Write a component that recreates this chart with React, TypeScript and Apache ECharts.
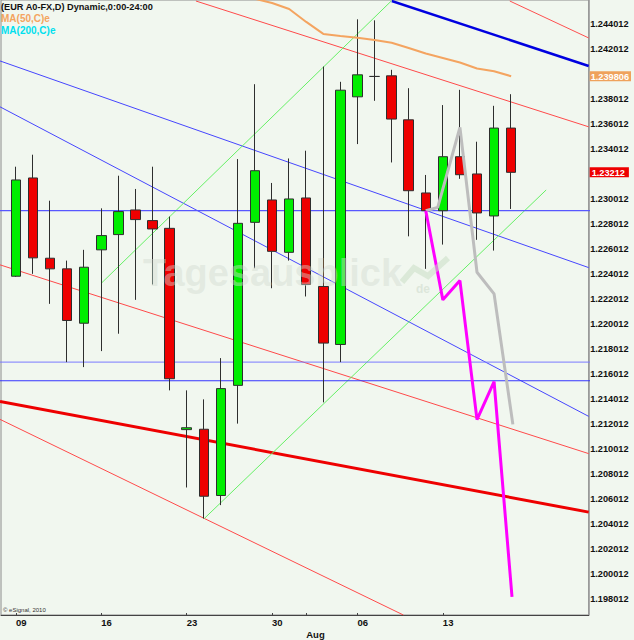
import { useEffect, useRef } from 'react';
import * as echarts from 'echarts';

const FONT = '"Liberation Sans", Arial, sans-serif';

// ---- candle data (trading-day index, Jul 9 2010 = 0) ----
const dayIdx = [0, 1, 2, 3, 4, 5, 6, 7, 8, 9, 10, 11, 12, 13, 14, 15, 16, 17, 18, 19, 20, 21, 22, 23, 24, 25, 26, 27, 28, 29];
const opens = [1.22381, 1.23167, 1.22525, 1.22440, 1.22005, 1.22592, 1.22714, 1.22911, 1.22826, 1.22764, 1.21154, 1.21157, 1.20627, 1.21508, 1.22812, 1.22991, 1.22572, 1.23007, 1.22299, 1.21835, 1.23816, 1.23979, 1.23984, 1.23632, 1.23047, 1.22905, 1.23337, 1.23199, 1.22863, 1.23566];
const closes = [1.23151, 1.22528, 1.22440, 1.22027, 1.22453, 1.22706, 1.22898, 1.22834, 1.22759, 1.21561, 1.21169, 1.20621, 1.21482, 1.22804, 1.23225, 1.22580, 1.22999, 1.22315, 1.21846, 1.23869, 1.23992, 1.23979, 1.23638, 1.23065, 1.22905, 1.23337, 1.23193, 1.22887, 1.23566, 1.23212];
const lows = [1.22375, 1.22400, 1.22160, 1.21694, 1.21654, 1.21782, 1.21921, 1.22192, 1.22315, 1.21468, 1.20691, 1.20443, 1.20550, 1.21202, 1.22445, 1.22285, 1.22506, 1.22219, 1.21372, 1.21694, 1.23438, 1.23784, 1.23291, 1.22700, 1.22440, 1.22634, 1.23160, 1.22672, 1.22586, 1.22919];
const highs = [1.23257, 1.23353, 1.22985, 1.22506, 1.22592, 1.22924, 1.23185, 1.23079, 1.23257, 1.22858, 1.21468, 1.21396, 1.21726, 1.23318, 1.23917, 1.23127, 1.23323, 1.23385, 1.24058, 1.23936, 1.24436, 1.24428, 1.24032, 1.23885, 1.23191, 1.23750, 1.23872, 1.23457, 1.23744, 1.23837];

// ---- MA(50) ----
const ma50Idx = [14, 15, 16, 17, 18, 19, 20, 21, 22, 23, 24, 25, 26, 27, 28, 29];
const ma50Val = [1.24600, 1.24566, 1.24518, 1.24415, 1.24319, 1.24303, 1.24289, 1.24271, 1.24249, 1.24207, 1.24162, 1.24127, 1.24090, 1.24043, 1.24020, 1.239806];

// ---- drawn trend lines: [index, price] end points ----
const redTopRight = [[28.92, 1.245825], [33.54, 1.24287]];
const blueThick = [[22.01, 1.245825], [33.54, 1.24063]];
const redUpper = [[10.54, 1.245825], [33.54, 1.23576]];
const blueUpper = [[-0.933, 1.24103], [33.54, 1.22450]];
const blueLower = [[-0.933, 1.23736], [33.54, 1.21260]];
const redMiddle = [[-0.933, 1.22472], [33.54, 1.20962]];
const redThick = [[-0.933, 1.21380], [33.54, 1.20494]];
const redBottom = [[-0.933, 1.21236], [22.69, 1.19671]];
const greenUpper = [[5.0, 1.22325], [21.98, 1.245825]];
const greenLower = [[11.03, 1.20443], [31.05, 1.23071]];
const hLevels = [1.22905, 1.21694, 1.21545];

// ---- projections ----
const magentaIdx = [24, 25, 26, 27, 28, 29.05];
const magentaVal = [1.22905, 1.22192, 1.22346, 1.21234, 1.21537, 1.19817];
const grayIdx = [24, 24.7, 26, 27, 28, 29.1];
const grayVal = [1.22905, 1.22932, 1.23571, 1.22413, 1.22240, 1.21196];

// ---- axes ----
const yMin = 1.196711;
const yMax = 1.245905;
const xMin = -0.875;
const xMax = 33.54;
const yTickValues = [1.244012, 1.242012, 1.238012, 1.236012, 1.234012, 1.230012, 1.228012, 1.226012, 1.224012, 1.222012, 1.220012, 1.218012, 1.216012, 1.214012, 1.212012, 1.210012, 1.208012, 1.206012, 1.204012, 1.202012, 1.200012, 1.198012];
const xTickIdx = [0, 5, 10, 15, 20, 25];
const xTickLabels = ['09', '16', '23', '30', '06', '13'];
const monthIdx = 17;
const monthLabel = 'Aug';
const maLast = 1.239806;
const priceLast = 1.23212;

const title = '(EUR A0-FX,D) Dynamic,0:00-24:00';
const ma50Name = 'MA(50,C)e';
const ma200Name = 'MA(200,C)e';

function line(name: string, data: number[][], color: string, width: number, z = 2) {
  return {
    type: 'line',
    name,
    data,
    symbol: 'none',
    showSymbol: false,
    silent: true,
    z,
    lineStyle: { color, width },
  };
}

export default function App() {
  const ref = useRef<HTMLDivElement>(null);
  useEffect(() => {
    document.body.style.margin = '0';
    const chart = echarts.init(ref.current!, null, { renderer: 'svg' });
    const candleData = dayIdx.map((d, i) => [d, opens[i], closes[i], lows[i], highs[i]]);
    const hLine = (v: number) => [[xMin - 1, v], [xMax + 1, v]];
    const option: any = {
      animation: false,
      backgroundColor: '#f1f7ef',
      textStyle: { fontFamily: FONT },
      grid: {
        left: 1,
        right: 43,
        top: -1,
        bottom: 25,
        show: true,
        borderColor: '#8c8c8c',
        borderWidth: 1,
        backgroundColor: 'transparent',
      },
      xAxis: {
        type: 'value',
        min: xMin,
        max: xMax,
        splitLine: { show: false },
        axisLine: { show: true, onZero: false, lineStyle: { color: '#444', width: 1 } },
        axisTick: {
          show: true,
          inside: true,
          length: 2,
          lineStyle: { color: '#444' },
          customValues: [...xTickIdx, monthIdx],
        },
        axisLabel: {
          show: true,
          customValues: [...xTickIdx, monthIdx],
          formatter: (v: number) => (v === monthIdx ? '\n' + monthLabel : xTickLabels[xTickIdx.indexOf(v)]),
          align: 'left',
          margin: 2,
          lineHeight: 11.5,
          fontSize: 9.5,
          fontWeight: 'bold',
          color: '#111',
          fontFamily: FONT,
        },
      },
      yAxis: [
        {
          type: 'value',
          position: 'right',
          min: yMin,
          max: yMax,
          splitLine: { show: false },
          axisLine: { show: true, onZero: false, lineStyle: { color: '#999', width: 1.5 } },
          axisTick: { show: false },
          axisLabel: {
            show: true,
            customValues: yTickValues,
            formatter: (v: number) => v.toFixed(6),
            margin: 1.5,
            fontSize: 9.2,
            fontWeight: 'bold',
            color: '#111',
            fontFamily: FONT,
          },
        },
        {
          type: 'value',
          position: 'right',
          min: yMin,
          max: yMax,
          splitLine: { show: false },
          axisLine: { show: false, onZero: false },
          axisTick: { show: false },
          axisLabel: {
            show: true,
            customValues: [maLast, priceLast],
            margin: 1,
            formatter: (v: number) =>
              Math.abs(v - maLast) < 1e-7 ? '{ma|' + maLast.toFixed(6) + '}' : '{last|' + priceLast.toFixed(5) + '}',
            rich: {
              ma: {
                backgroundColor: '#efa25c',
                color: '#fff',
                fontWeight: 'bold',
                fontSize: 9.2,
                fontFamily: FONT,
                padding: [1, 2, 0, 1],
                lineHeight: 10,
              },
              last: {
                backgroundColor: '#ee0000',
                color: '#fff',
                fontWeight: 'bold',
                fontSize: 9.2,
                fontFamily: FONT,
                padding: [1, 4, 0, 2],
                lineHeight: 10,
              },
            },
          },
        },
      ],
      series: [
        line('redTopRight', redTopRight, '#ff5050', 1),
        line('blueThick', blueThick, '#0000e0', 2.5),
        line('redUpper', redUpper, '#ff4a4a', 1),
        line('blueUpper', blueUpper, '#4646ff', 1),
        line('blueLower', blueLower, '#4646ff', 1),
        line('redMiddle', redMiddle, '#ff4a4a', 1),
        line('redThick', redThick, '#ee0000', 3),
        line('redBottom', redBottom, '#ff4a4a', 1),
        line('greenUpper', greenUpper, '#66f066', 1),
        line('greenLower', greenLower, '#66f066', 1),
        line('level1', hLine(hLevels[0]), '#5858ff', 1.2),
        line('level2', hLine(hLevels[1]), '#7a7aff', 1),
        line('level3', hLine(hLevels[2]), '#3535ff', 1.2),
        {
          type: 'candlestick',
          name: 'EUR A0-FX',
          data: candleData,
          barWidth: 10,
          z: 3,
          silent: true,
          itemStyle: {
            color: '#00ee00',
            color0: '#ee0000',
            borderColor: '#2e2e2e',
            borderColor0: '#2e2e2e',
            borderWidth: 1,
          },
        },
        line('gray', grayIdx.map((x, i) => [x, grayVal[i]]), '#bdbdbd', 3, 4),
        line('magenta', magentaIdx.map((x, i) => [x, magentaVal[i]]), '#ff00ff', 3, 5),
        line(ma50Name, ma50Idx.map((x, i) => [x, ma50Val[i]]), '#f4a460', 2, 4),
      ],
      graphic: [
        {
          type: 'text',
          left: 143,
          top: 254,
          z: 10,
          silent: true,
          style: {
            text: 'Tagesausblick',
            fill: 'rgba(210,218,208,0.45)',
            font: 'bold 38px ' + FONT,
          },
        },
        {
          type: 'polyline',
          z: 10,
          silent: true,
          shape: { points: [[402, 282], [414, 268], [428, 276], [448, 258]] },
          style: { stroke: 'rgba(200,222,196,0.55)', lineWidth: 6, fill: 'none' },
        },
        {
          type: 'text',
          left: 416,
          top: 283,
          z: 10,
          silent: true,
          style: { text: 'de', fill: 'rgba(200,214,198,0.5)', font: 'bold 12px ' + FONT },
        },
        {
          type: 'text',
          left: 1,
          top: 2,
          z: 20,
          style: { text: title, fill: '#111', font: 'bold 9.2px ' + FONT },
        },
        {
          type: 'text',
          left: 1,
          top: 13,
          z: 20,
          style: { text: ma50Name, fill: '#f4a460', font: 'bold 10px ' + FONT },
        },
        {
          type: 'text',
          left: 1,
          top: 25,
          z: 20,
          style: { text: ma200Name, fill: '#00e0ee', font: 'bold 10px ' + FONT },
        },
        {
          type: 'text',
          left: 3,
          top: 607,
          z: 20,
          style: { text: '\u00a9 eSignal, 2010', fill: '#333', font: '6px ' + FONT },
        },
      ],
    };
    chart.setOption(option);
    return () => chart.dispose();
  }, []);
  return <div ref={ref} style={{ width: 634, height: 640 }} />;
}
